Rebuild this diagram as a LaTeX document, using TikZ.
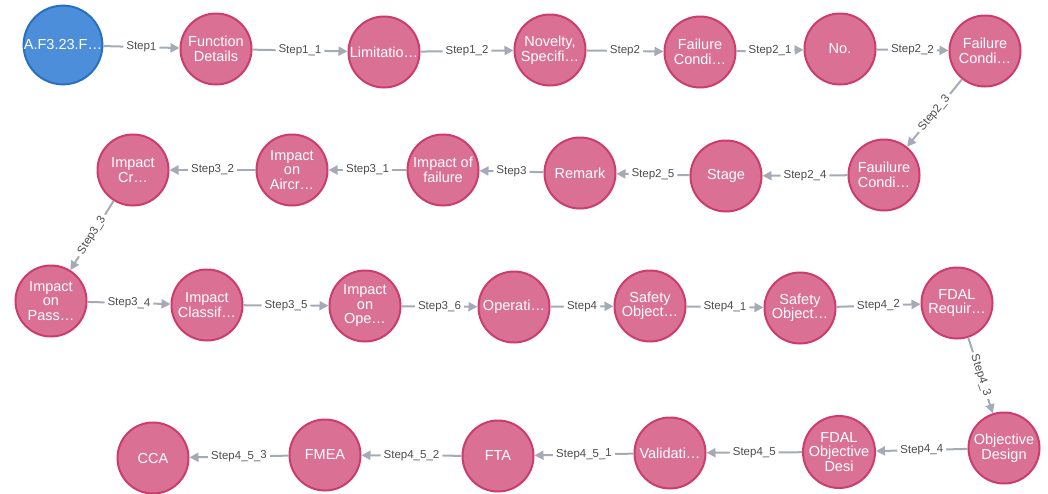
\documentclass[tikz,border=0pt]{standalone}
\usepackage{fontspec}
\setmainfont{Liberation Sans}
\usetikzlibrary{arrows.meta}
\definecolor{pinkfill}{HTML}{DA7194}
\definecolor{pinkline}{HTML}{CC3C6C}
\definecolor{bluefill}{HTML}{4C8EDA}
\definecolor{blueline}{HTML}{2870C2}
\definecolor{edgegray}{HTML}{A5ABB6}
\definecolor{labelgray}{HTML}{4D4D4D}
\begin{document}
\begin{tikzpicture}[x=1pt,y=-1pt,
  entity/.style={circle, minimum size=71pt, inner sep=0pt, line width=2pt,
    draw=pinkline, fill=pinkfill, text=white, align=center,
    font=\fontsize{14.5}{14.5}\selectfont},
  rootnode/.style={entity, draw=blueline, fill=bluefill},
  rel/.style={draw=edgegray, line width=2pt, -{Triangle[length=9pt,width=9pt]}},
  rellabel/.style={fill=white, text=labelgray, font=\fontsize{11.5}{13}\selectfont,
    inner xsep=3pt, inner ysep=1.5pt, midway, sloped}
]
\useasboundingbox (0,0) rectangle (1048,493);

% first row
\node[rootnode] (n0)  at (63,45)   {A.F3.23.F…};
\node[entity]   (n1)  at (216,49)  {Function\\Details};
\node[entity]   (n2)  at (384,52)  {Limitatio…};
\node[entity]   (n3)  at (550,50)  {Novelty,\\Specifi…};
\node[entity]   (n4)  at (700,52)  {Failure\\Condi…};
\node[entity]   (n5)  at (840,49)  {No.};
\node[entity]   (n6)  at (985,51)  {Failure\\Condi…};
% second row
\node[entity]   (n7)  at (884,175) {Fauilure\\Condi…};
\node[entity]   (n8)  at (726,176) {Stage};
\node[entity]   (n9)  at (580,173) {Remark};
\node[entity]   (n10) at (443,170) {Impact of\\failure};
\node[entity]   (n11) at (292,170) {Impact\\on\\Aircr…};
\node[entity]   (n12) at (133,170) {Impact\\Cr…};
% third row
\node[entity]   (n13) at (51,301)  {Impact\\on\\Pass…};
\node[entity]   (n14) at (207,305) {Impact\\Classif…};
\node[entity]   (n15) at (365,306) {Impact\\on\\Ope…};
\node[entity]   (n16) at (514,307) {Operati…};
\node[entity]   (n17) at (650,306) {Safety\\Object…};
\node[entity]   (n18) at (800,308) {Safety\\Object…};
\node[entity]   (n19) at (957,303) {FDAL\\Requir…};
% fourth row
\node[entity]   (n20) at (1004,448) {Objective\\Design};
\node[entity]   (n21) at (839,452) {FDAL\\Objective\\Desi};
\node[entity]   (n22) at (670,453) {Validati…};
\node[entity]   (n23) at (498,456) {FTA};
\node[entity]   (n24) at (325,455) {FMEA};
\node[entity]   (n25) at (153,458) {CCA};

% relationships
\draw[rel] (n0)  -- node[rellabel]{Step1}       (n1);
\draw[rel] (n1)  -- node[rellabel]{Step1\_1}    (n2);
\draw[rel] (n2)  -- node[rellabel]{Step1\_2}    (n3);
\draw[rel] (n3)  -- node[rellabel]{Step2}       (n4);
\draw[rel] (n4)  -- node[rellabel]{Step2\_1}    (n5);
\draw[rel] (n5)  -- node[rellabel]{Step2\_2}    (n6);
\draw[rel] (n6)  -- node[rellabel]{Step2\_3}    (n7);
\draw[rel] (n7)  -- node[rellabel]{Step2\_4}    (n8);
\draw[rel] (n8)  -- node[rellabel]{Step2\_5}    (n9);
\draw[rel] (n9)  -- node[rellabel]{Step3}       (n10);
\draw[rel] (n10) -- node[rellabel]{Step3\_1}    (n11);
\draw[rel] (n11) -- node[rellabel]{Step3\_2}    (n12);
\draw[rel] (n12) -- node[rellabel]{Step3\_3}    (n13);
\draw[rel] (n13) -- node[rellabel]{Step3\_4}    (n14);
\draw[rel] (n14) -- node[rellabel]{Step3\_5}    (n15);
\draw[rel] (n15) -- node[rellabel]{Step3\_6}    (n16);
\draw[rel] (n16) -- node[rellabel]{Step4}       (n17);
\draw[rel] (n17) -- node[rellabel]{Step4\_1}    (n18);
\draw[rel] (n18) -- node[rellabel]{Step4\_2}    (n19);
\draw[rel] (n19) -- node[rellabel]{Step4\_3}    (n20);
\draw[rel] (n20) -- node[rellabel]{Step4\_4}    (n21);
\draw[rel] (n21) -- node[rellabel]{Step4\_5}    (n22);
\draw[rel] (n22) -- node[rellabel]{Step4\_5\_1} (n23);
\draw[rel] (n23) -- node[rellabel]{Step4\_5\_2} (n24);
\draw[rel] (n24) -- node[rellabel]{Step4\_5\_3} (n25);
\end{tikzpicture}
\end{document}
